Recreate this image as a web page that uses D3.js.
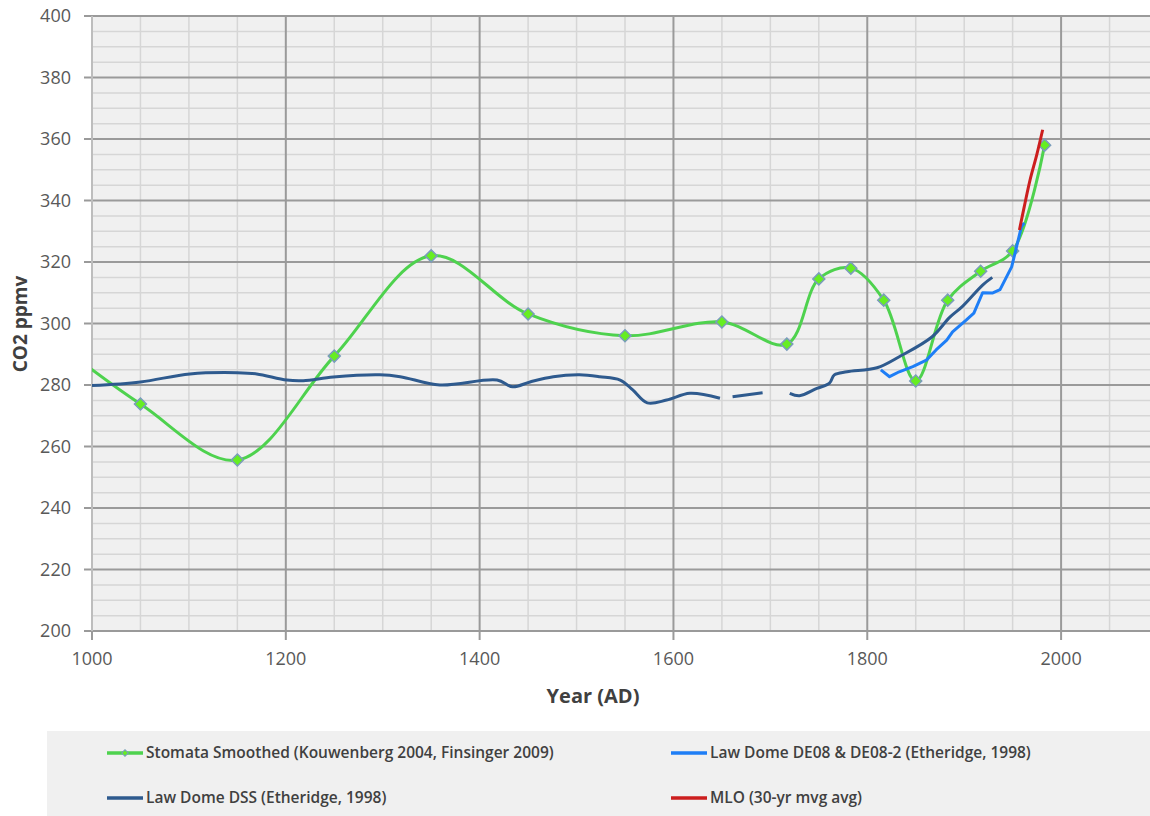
<!DOCTYPE html>
<html>
<head>
<meta charset="utf-8">
<script src="https://cdn.jsdelivr.net/npm/d3@7"></script>
<style>
  body { margin: 0; background: #fff; }
  svg { display: block; font-family: "Open Sans", "Noto Sans", sans-serif; }
</style>
</head>
<body>
<script>
// stomata smoothed (year, ppmv) - first point sits left of the axis and is clipped
let stomataYears = [950, 1050, 1150, 1250, 1350, 1450, 1550, 1650, 1717, 1750, 1783, 1817, 1850, 1883, 1917, 1950, 1983];
let stomataValues = [297, 273.8, 255.6, 289.4, 322, 303.1, 296, 300.5, 293.3, 314.5, 318, 307.6, 281.3, 307.6, 317, 323.6, 358];

// Law Dome DSS, null = gap in the record
let dssYears = [1000, 1050, 1101, 1150, 1170, 1201, 1218, 1249, 1297, 1318, 1359, 1418, 1434, 1452, 1476, 1503, 1524, 1545, 1558, 1573, 1593, 1617, 1648,
  1655, 1661, 1692, 1705, 1720, 1730, 1748, 1761, 1766, 1779, 1810, 1833, 1867, 1885, 1898, 1919, 1929];
let dssValues = [279.8, 281, 283.6, 284, 283.6, 281.6, 281.4, 282.6, 283.3, 282.7, 280, 281.6, 279.4, 281, 282.7, 283.3, 282.7, 281.6, 278.4, 274.2, 275.1, 277.3, 275.7,
  null, 276.2, 277.5, null, 277.3, 276.5, 278.9, 280.6, 283.3, 284.3, 285.6, 289.2, 295.7, 302, 305.5, 312.5, 315];

// Law Dome DE08 & DE08-2
let de08Years = [1814, 1823, 1833, 1847, 1861, 1871, 1882, 1888, 1902, 1910, 1919, 1929, 1937, 1949, 1954, 1959, 1962];
let de08Values = [284.9, 282.7, 284.3, 286, 288.1, 291.4, 294.6, 297.3, 301.1, 303.4, 310, 309.9, 311, 318.4, 324.9, 331.4, 332.7];

// MLO 30-yr moving average
let mloYears = [1957, 1962, 1968, 1975, 1981];
let mloValues = [330.4, 338, 346.7, 355, 363];

let yTicks = [200, 220, 240, 260, 280, 300, 320, 340, 360, 380, 400];
let xTicks = [1000, 1200, 1400, 1600, 1800, 2000];

let legendItems = [
  { label: "Stomata Smoothed (Kouwenberg 2004, Finsinger 2009)", color: "#4ED24E", marker: true },
  { label: "Law Dome DE08 & DE08-2 (Etheridge, 1998)", color: "#1E7EF6", marker: false },
  { label: "Law Dome DSS (Etheridge, 1998)", color: "#2E5A8E", marker: false },
  { label: "MLO (30-yr mvg avg)", color: "#CC1E1E", marker: false }
];

let width = 1150;
let height = 816;
let svg = d3.select("body").append("svg").attr("width", width).attr("height", height);

let plotLeft = 92, plotTop = 16, plotBottom = 631, plotRight = 1158;

let x = d3.scaleLinear().domain([1000, 2100]).range([plotLeft, plotRight]);
let y = d3.scaleLinear().domain([200, 400]).range([plotBottom, plotTop]);

let gridMajor = "#9a9a9a";
let gridMinor = "#d6d6d6";
let labelColor = "#595959";

svg.append("rect")
  .attr("x", plotLeft).attr("y", plotTop)
  .attr("width", plotRight - plotLeft).attr("height", plotBottom - plotTop)
  .attr("fill", "#f0f0f0");

// minor grid
svg.append("g").selectAll("line")
  .data(d3.range(205, 400, 5).filter(v => v % 20 != 0))
  .join("line")
  .attr("x1", plotLeft).attr("x2", plotRight)
  .attr("y1", d => y(d)).attr("y2", d => y(d))
  .attr("stroke", gridMinor).attr("stroke-width", 1.5);

svg.append("g").selectAll("line")
  .data(d3.range(1050, 2100, 50).filter(v => v % 200 != 0))
  .join("line")
  .attr("x1", d => x(d)).attr("x2", d => x(d))
  .attr("y1", plotTop).attr("y2", plotBottom)
  .attr("stroke", gridMinor).attr("stroke-width", 1.5);

// major grid + ticks
svg.append("g").selectAll("line")
  .data(yTicks)
  .join("line")
  .attr("x1", plotLeft - 8).attr("x2", plotRight)
  .attr("y1", d => y(d)).attr("y2", d => y(d))
  .attr("stroke", gridMajor).attr("stroke-width", 2);

svg.append("g").selectAll("line")
  .data(xTicks)
  .join("line")
  .attr("x1", d => x(d)).attr("x2", d => x(d))
  .attr("y1", plotTop).attr("y2", plotBottom + 9)
  .attr("stroke", gridMajor).attr("stroke-width", 2);

svg.append("line")
  .attr("x1", plotLeft).attr("x2", plotLeft).attr("y1", plotTop).attr("y2", plotBottom)
  .attr("stroke", "#c8c8c8").attr("stroke-width", 1.5);

// tick labels
svg.append("g").selectAll("text")
  .data(yTicks)
  .join("text")
  .attr("x", plotLeft - 21).attr("y", d => y(d))
  .attr("dy", "0.35em")
  .attr("text-anchor", "end")
  .attr("font-size", 18).attr("fill", labelColor)
  .text(d => d);

svg.append("g").selectAll("text")
  .data(xTicks)
  .join("text")
  .attr("x", d => x(d)).attr("y", 659)
  .attr("dy", "0.35em")
  .attr("text-anchor", "middle")
  .attr("font-size", 18).attr("fill", labelColor)
  .text(d => d);

svg.append("text")
  .attr("x", 593).attr("y", 696).attr("dy", "0.35em")
  .attr("text-anchor", "middle")
  .attr("font-size", 20).attr("font-weight", "bold").attr("fill", "#404040")
  .text("Year (AD)");

svg.append("text")
  .attr("transform", "translate(20,324) rotate(-90)")
  .attr("dy", "0.35em")
  .attr("text-anchor", "middle")
  .attr("font-size", 19).attr("font-weight", "bold").attr("fill", "#404040")
  .text("CO2 ppmv");

// series
svg.append("clipPath").attr("id", "plot-clip")
  .append("rect")
  .attr("x", plotLeft).attr("y", plotTop)
  .attr("width", plotRight - plotLeft).attr("height", plotBottom - plotTop);

let plot = svg.append("g").attr("clip-path", "url(#plot-clip)");

function pairs(years, values) {
  return years.map((yr, i) => [yr, values[i]]);
}

let line = d3.line()
  .defined(d => d[1] != null)
  .x(d => x(d[0]))
  .y(d => y(d[1]));

let stomata = pairs(stomataYears, stomataValues);

plot.append("path")
  .datum(stomata)
  .attr("d", line.curve(d3.curveCatmullRom.alpha(0.5)))
  .attr("fill", "none")
  .attr("stroke", legendItems[0].color)
  .attr("stroke-width", 3);

// square diamond marker: a square turned 45 degrees
let diamond = d3.symbol().type(d3.symbolSquare).size(72);

plot.append("g").selectAll("path")
  .data(stomata)
  .join("path")
  .attr("d", diamond)
  .attr("transform", d => "translate(" + x(d[0]) + "," + y(d[1]) + ") rotate(45)")
  .attr("fill", "#66ee22")
  .attr("stroke", "#7a9cbc")
  .attr("stroke-width", 1.5);

plot.append("path")
  .datum(pairs(dssYears, dssValues))
  .attr("d", line.curve(d3.curveCatmullRom.alpha(0.5)))
  .attr("fill", "none")
  .attr("stroke", legendItems[2].color)
  .attr("stroke-width", 3);

plot.append("path")
  .datum(pairs(de08Years, de08Values))
  .attr("d", line.curve(d3.curveLinear))
  .attr("fill", "none")
  .attr("stroke", legendItems[1].color)
  .attr("stroke-width", 3)
  .attr("stroke-linejoin", "round");

plot.append("path")
  .datum(pairs(mloYears, mloValues))
  .attr("d", line.curve(d3.curveCatmullRom.alpha(0.5)))
  .attr("fill", "none")
  .attr("stroke", legendItems[3].color)
  .attr("stroke-width", 3);

// legend
svg.append("rect")
  .attr("x", 47).attr("y", 731)
  .attr("width", width - 47).attr("height", height - 731)
  .attr("fill", "#f0f0f0");

let legend = svg.append("g").selectAll("g")
  .data(legendItems)
  .join("g")
  .attr("transform", (d, i) => "translate(" + (i % 2 == 0 ? 107 : 671) + "," + (i < 2 ? 753 : 798) + ")");

legend.append("line")
  .attr("x1", 0).attr("x2", 36)
  .attr("stroke", d => d.color)
  .attr("stroke-width", 3.5);

legend.filter(d => d.marker)
  .append("path")
  .attr("d", d3.symbol().type(d3.symbolSquare).size(22))
  .attr("transform", "translate(18,0) rotate(45)")
  .attr("fill", "#66ee22")
  .attr("stroke", "#7a9cbc");

legend.append("text")
  .attr("x", 39).attr("dy", "0.35em")
  .attr("font-size", 15.5).attr("font-weight", 600)
  .attr("fill", "#404040")
  .text(d => d.label);
</script>
</body>
</html>
